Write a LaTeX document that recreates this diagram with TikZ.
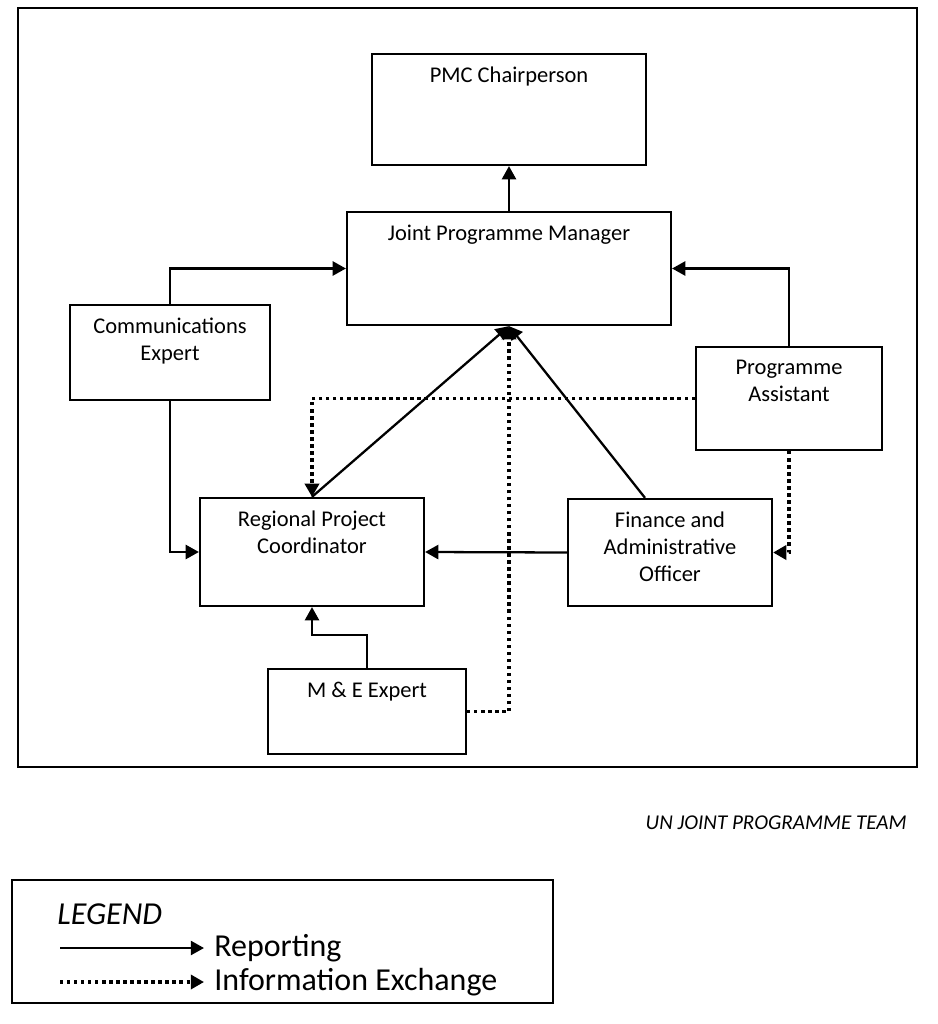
\documentclass[tikz,border=0pt]{standalone}
\usepackage{fontspec}
\setmainfont{Carlito}
\usepackage{tikz}
\usetikzlibrary{arrows.meta, positioning}
\tikzset{
  unit/.style={rectangle, draw, line width=1.3pt, inner sep=0pt},
  boxtext/.style={anchor=north, inner sep=0pt, yshift=-0.27cm, align=center, font=\fontsize{12.8}{15.5}\selectfont},
  arrow/.style={-{Triangle[length=7.5pt, width=8pt]}, line width=1.3pt},
  infoarrow/.style={-{Triangle[length=7.5pt, width=8pt]}, line width=2pt, dash pattern=on 1.9pt off 2.1pt}
}

\begin{document}
\begin{tikzpicture}[x=0.02cm, y=-0.02cm]
  \useasboundingbox (0,0) rectangle (937,1024);
  % Frame
  \node[unit, minimum width=17.98cm, minimum height=15.18cm] (frame) at (467.5,387.5) {};

  % Nodes
  \node[unit, minimum width=5.48cm, minimum height=2.22cm,
        label={[boxtext]north:PMC Chairperson}] (pmc) at (509,109.5) {};
  \node[unit, minimum width=6.48cm, minimum height=2.26cm,
        label={[boxtext]north:Joint Programme Manager}] (jpm) at (509,268.5) {};
  \node[unit, minimum width=4cm, minimum height=1.9cm,
        label={[boxtext]north:Communications\\Expert}] (comm) at (170,352.5) {};
  \node[unit, minimum width=3.72cm, minimum height=2.06cm,
        label={[boxtext]north:Programme\\Assistant}] (pa) at (789,398.5) {};
  \node[unit, minimum width=4.48cm, minimum height=2.16cm,
        label={[boxtext]north:Regional Project\\Coordinator}] (rpc) at (312,552) {};
  \node[unit, minimum width=4.08cm, minimum height=2.14cm,
        label={[boxtext]north:Finance and\\Administrative\\Officer}] (fao) at (670,552.5) {};
  \node[unit, minimum width=3.96cm, minimum height=1.7cm,
        label={[boxtext]north:M \& E Expert}] (me) at (367,711.5) {};

  \node[anchor=east, inner sep=0pt, font=\fontsize{12}{14}\selectfont\itshape] (title) at (907,823) {UN JOINT PROGRAMME TEAM};

  % Connections
  \draw[arrow] (jpm.north) -- (pmc.south);
  \draw[arrow] (comm.north) |- (jpm.west);
  \draw[arrow] (comm.south) |- (rpc.west);
  \draw[arrow] (pa.north) |- (jpm.east);
  \draw[arrow] (fao.west) -- (rpc.east);
  \draw[arrow] (rpc.north) -- (jpm.south);
  \draw[arrow] ([xshift=-0.5cm]fao.north) -- (jpm.south);
  \draw[arrow] (me.north) -- ++(0,-33) -| (rpc.south);
  \draw[infoarrow] (pa.west) -| (rpc.north);
  \draw[infoarrow] (pa.south) |- (fao.east);
  \draw[infoarrow] (me.east) -| (jpm.south);

  % Legend
  \node[unit, minimum width=10.82cm, minimum height=2.46cm] (legend) at (282.5,941.5) {};
  \node[anchor=west, inner sep=0pt, font=\fontsize{18.2}{20}\selectfont\itshape] (legendtitle) at (57,914) {LEGEND};
  \coordinate (rep0) at (60,948);
  \coordinate (rep1) at (204,948);
  \coordinate (info0) at (60,982);
  \coordinate (info1) at (204,982);
  \draw[arrow] (rep0) -- (rep1);
  \draw[infoarrow] (info0) -- (info1);
  \node[anchor=west, inner sep=0pt, font=\fontsize{18.2}{20}\selectfont] (reptext) at (214,948) {Reporting};
  \node[anchor=west, inner sep=0pt, font=\fontsize{18.2}{20}\selectfont] (infotext) at (214,982) {Information Exchange};
\end{tikzpicture}
\end{document}
